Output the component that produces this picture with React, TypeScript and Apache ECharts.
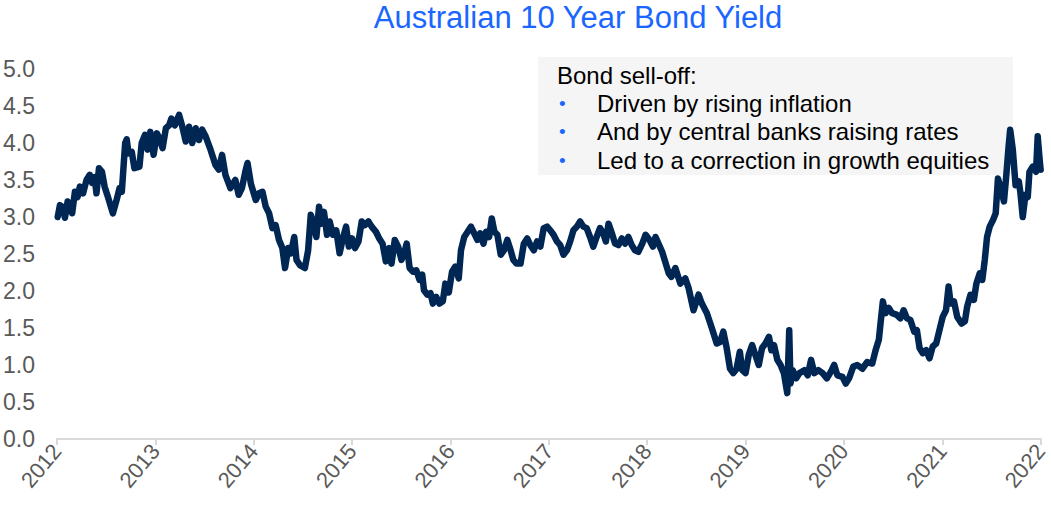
import React, { useEffect, useRef } from "react";
import * as echarts from "echarts";

const title = "Australian 10 Year Bond Yield";
const noteHeading = "Bond sell-off:";
const noteBullets = [
  "Driven by rising inflation",
  "And by central banks raising rates",
  "Led to a correction in growth equities",
];
const yearTicks = [2012, 2022];

const dates = [
  2012.007, 2012.030, 2012.053, 2012.081, 2012.108, 2012.131, 2012.154, 2012.182, 2012.209, 2012.232,
  2012.265, 2012.300, 2012.333, 2012.356, 2012.383, 2012.401, 2012.427, 2012.457, 2012.484, 2012.518,
  2012.568, 2012.602, 2012.636, 2012.659, 2012.693, 2012.709, 2012.727, 2012.760, 2012.787, 2012.838,
  2012.861, 2012.895, 2012.921, 2012.949, 2012.982, 2013.016, 2013.049, 2013.073, 2013.107, 2013.140,
  2013.163, 2013.198, 2013.241, 2013.274, 2013.309, 2013.342, 2013.375, 2013.410, 2013.443, 2013.476,
  2013.511, 2013.561, 2013.612, 2013.645, 2013.678, 2013.712, 2013.763, 2013.813, 2013.847, 2013.880,
  2013.914, 2013.937, 2013.971, 2014.021, 2014.055, 2014.089, 2014.122, 2014.156, 2014.190, 2014.223,
  2014.257, 2014.291, 2014.318, 2014.351, 2014.378, 2014.412, 2014.435, 2014.469, 2014.520, 2014.553,
  2014.580, 2014.603, 2014.637, 2014.664, 2014.687, 2014.714, 2014.745, 2014.772, 2014.805, 2014.839,
  2014.873, 2014.906, 2014.939, 2014.967, 2015.000, 2015.030, 2015.065, 2015.098, 2015.131, 2015.166,
  2015.199, 2015.242, 2015.276, 2015.310, 2015.343, 2015.377, 2015.401, 2015.434, 2015.468, 2015.502,
  2015.529, 2015.555, 2015.585, 2015.620, 2015.653, 2015.686, 2015.713, 2015.731, 2015.764, 2015.797,
  2015.821, 2015.855, 2015.888, 2015.922, 2015.948, 2015.983, 2016.016, 2016.049, 2016.084, 2016.107,
  2016.140, 2016.175, 2016.208, 2016.241, 2016.275, 2016.302, 2016.336, 2016.362, 2016.393, 2016.420,
  2016.447, 2016.477, 2016.511, 2016.544, 2016.578, 2016.612, 2016.639, 2016.672, 2016.712, 2016.746,
  2016.780, 2016.813, 2016.847, 2016.881, 2016.914, 2016.948, 2016.982, 2017.015, 2017.048, 2017.083,
  2017.116, 2017.149, 2017.184, 2017.217, 2017.250, 2017.285, 2017.318, 2017.351, 2017.385, 2017.419,
  2017.452, 2017.486, 2017.520, 2017.553, 2017.580, 2017.607, 2017.641, 2017.674, 2017.708, 2017.742,
  2017.775, 2017.809, 2017.843, 2017.876, 2017.910, 2017.950, 2017.984, 2018.024, 2018.058, 2018.085,
  2018.152, 2018.219, 2018.246, 2018.286, 2018.337, 2018.387, 2018.421, 2018.471, 2018.522, 2018.556,
  2018.607, 2018.657, 2018.707, 2018.741, 2018.774, 2018.808, 2018.842, 2018.875, 2018.909, 2018.942,
  2018.966, 2019.000, 2019.033, 2019.067, 2019.094, 2019.134, 2019.168, 2019.202, 2019.238, 2019.262,
  2019.289, 2019.323, 2019.356, 2019.390, 2019.424, 2019.444, 2019.457, 2019.480, 2019.515, 2019.548,
  2019.598, 2019.632, 2019.666, 2019.699, 2019.740, 2019.783, 2019.827, 2019.868, 2019.901, 2019.934,
  2019.985, 2020.019, 2020.052, 2020.096, 2020.136, 2020.187, 2020.237, 2020.288, 2020.322, 2020.355,
  2020.372, 2020.396, 2020.423, 2020.456, 2020.490, 2020.534, 2020.574, 2020.607, 2020.641, 2020.675,
  2020.715, 2020.742, 2020.769, 2020.802, 2020.836, 2020.870, 2020.903, 2020.938, 2020.971, 2021.004,
  2021.038, 2021.064, 2021.085, 2021.119, 2021.152, 2021.196, 2021.230, 2021.253, 2021.287, 2021.321,
  2021.347, 2021.381, 2021.407, 2021.432, 2021.455, 2021.482, 2021.516, 2021.543, 2021.566, 2021.600,
  2021.627, 2021.650, 2021.674, 2021.690, 2021.717, 2021.745, 2021.778, 2021.795, 2021.818, 2021.845,
  2021.869, 2021.886, 2021.919, 2021.953, 2021.970, 2021.993, 2022.000,
];

const yields = [
  3.00, 3.16, 3.14, 2.99, 3.21, 3.18, 3.05, 3.34, 3.27, 3.41,
  3.32, 3.50, 3.57, 3.46, 3.54, 3.32, 3.66, 3.61, 3.41, 3.27,
  3.05, 3.21, 3.39, 3.34, 4.00, 4.05, 3.86, 3.88, 3.66, 3.68,
  4.00, 4.11, 3.91, 4.15, 3.84, 4.13, 4.04, 3.93, 4.20, 4.24,
  4.33, 4.24, 4.38, 4.22, 4.02, 4.22, 4.00, 4.20, 4.04, 4.18,
  4.09, 3.91, 3.70, 3.64, 3.84, 3.57, 3.39, 3.50, 3.30, 3.39,
  3.61, 3.73, 3.45, 3.23, 3.32, 3.34, 3.14, 3.05, 2.85, 2.89,
  2.69, 2.58, 2.31, 2.58, 2.51, 2.73, 2.42, 2.35, 2.31, 2.55,
  3.03, 2.94, 2.73, 3.14, 2.91, 3.07, 2.76, 2.94, 2.76, 2.82,
  2.51, 2.71, 2.87, 2.60, 2.71, 2.58, 2.67, 2.94, 2.89, 2.94,
  2.87, 2.80, 2.71, 2.64, 2.40, 2.58, 2.37, 2.69, 2.60, 2.42,
  2.51, 2.64, 2.31, 2.26, 2.28, 2.15, 2.22, 2.01, 1.95, 1.97,
  1.83, 1.92, 1.83, 1.86, 2.10, 1.98, 2.26, 2.33, 2.17, 2.55,
  2.73, 2.80, 2.87, 2.78, 2.69, 2.78, 2.64, 2.80, 2.73, 2.98,
  2.80, 2.76, 2.49, 2.55, 2.69, 2.55, 2.42, 2.37, 2.37, 2.64,
  2.71, 2.62, 2.55, 2.67, 2.60, 2.85, 2.87, 2.82, 2.76, 2.67,
  2.62, 2.49, 2.55, 2.67, 2.82, 2.87, 2.94, 2.87, 2.85, 2.73,
  2.60, 2.73, 2.85, 2.78, 2.67, 2.91, 2.78, 2.64, 2.62, 2.71,
  2.64, 2.73, 2.62, 2.55, 2.53, 2.64, 2.76, 2.69, 2.60, 2.73,
  2.53, 2.24, 2.19, 2.31, 2.10, 2.17, 2.04, 1.74, 1.95, 1.83,
  1.70, 1.50, 1.29, 1.31, 1.45, 1.23, 0.95, 0.89, 0.95, 1.18,
  0.93, 0.89, 1.14, 1.27, 1.16, 1.00, 1.23, 1.29, 1.38, 1.20,
  1.27, 1.07, 1.00, 0.89, 0.62, 1.47, 0.75, 0.93, 0.82, 0.89,
  0.93, 0.86, 1.07, 0.89, 0.93, 0.89, 0.82, 0.91, 1.00, 0.86,
  0.84, 0.75, 0.82, 0.98, 1.00, 0.95, 1.04, 1.02, 1.20, 1.34,
  1.56, 1.86, 1.70, 1.77, 1.70, 1.68, 1.63, 1.74, 1.63, 1.61,
  1.45, 1.47, 1.23, 1.16, 1.20, 1.09, 1.25, 1.29, 1.47, 1.65,
  1.74, 2.06, 1.83, 1.86, 1.65, 1.56, 1.59, 1.79, 1.95, 1.88,
  2.10, 2.24, 2.15, 2.42, 2.73, 2.87, 2.96, 3.05, 3.52, 3.36,
  3.21, 3.55, 3.95, 4.18, 3.91, 3.43, 3.48, 3.32, 3.00, 3.30,
  3.27, 3.61, 3.68, 3.61, 4.09, 3.73, 3.64,
];

const FONT = "'Liberation Sans', Arial, sans-serif";

export default function App() {
  const ref = useRef<HTMLDivElement>(null);

  useEffect(() => {
    if (!ref.current) return;
    const chart = echarts.init(ref.current, null, { renderer: "svg" });
    const data = dates.map((d, i) => [d, yields[i]]);
    const lineY = [75, 103, 131, 160];
    const graphics: any[] = [
      {
        type: "text",
        x: 578,
        y: 17,
        style: {
          text: title,
          fill: "#1a66ff",
          font: `31px ${FONT}`,
          textAlign: "center",
          textVerticalAlign: "middle",
        },
      },
      {
        type: "rect",
        shape: { x: 538, y: 57, width: 475, height: 118 },
        style: { fill: "#f5f5f5" },
        z: 0,
      },
      {
        type: "text",
        x: 557,
        y: lineY[0],
        style: {
          text: noteHeading,
          fill: "#000000",
          font: `24px ${FONT}`,
          textVerticalAlign: "middle",
        },
        z: 1,
      },
    ];
    noteBullets.forEach((t, i) => {
      graphics.push({
        type: "text",
        x: 559,
        y: lineY[i + 1],
        style: {
          text: "•",
          fill: "#1a66ff",
          font: `19px ${FONT}`,
          textVerticalAlign: "middle",
        },
        z: 1,
      });
      graphics.push({
        type: "text",
        x: 597,
        y: lineY[i + 1],
        style: {
          text: t,
          fill: "#000000",
          font: `24px ${FONT}`,
          textVerticalAlign: "middle",
        },
        z: 1,
      });
    });

    chart.setOption({
      animation: false,
      grid: { left: 57, right: 3, top: 69, bottom: 66, containLabel: false },
      xAxis: {
        type: "value",
        min: yearTicks[0],
        max: yearTicks[1],
        interval: 1,
        axisLine: { show: true, lineStyle: { color: "#d9d9d9", width: 2 } },
        axisTick: { show: true, length: 6, lineStyle: { color: "#d9d9d9", width: 2 } },
        splitLine: { show: false },
        axisLabel: {
          formatter: (v: number) => String(Math.round(v)),
          rotate: 50,
          color: "#595959",
          fontFamily: FONT,
          fontSize: 22,
          margin: 8,
        },
      },
      yAxis: {
        type: "value",
        min: 0,
        max: 5,
        interval: 0.5,
        axisLine: { show: false },
        axisTick: { show: false },
        splitLine: { show: false },
        axisLabel: {
          formatter: (v: number) => v.toFixed(1),
          color: "#595959",
          fontFamily: FONT,
          fontSize: 23,
          margin: 22,
        },
      },
      series: [
        {
          type: "line",
          data,
          showSymbol: false,
          symbol: "none",
          lineStyle: { color: "#002654", width: 6.5, cap: "round", join: "round" },
          z: 2,
        },
      ],
      graphic: graphics,
    });
    return () => chart.dispose();
  }, []);

  return (
    <div
      ref={ref}
      style={{ position: "fixed", left: 0, top: 0, width: 1051, height: 505, background: "#ffffff" }}
    />
  );
}
